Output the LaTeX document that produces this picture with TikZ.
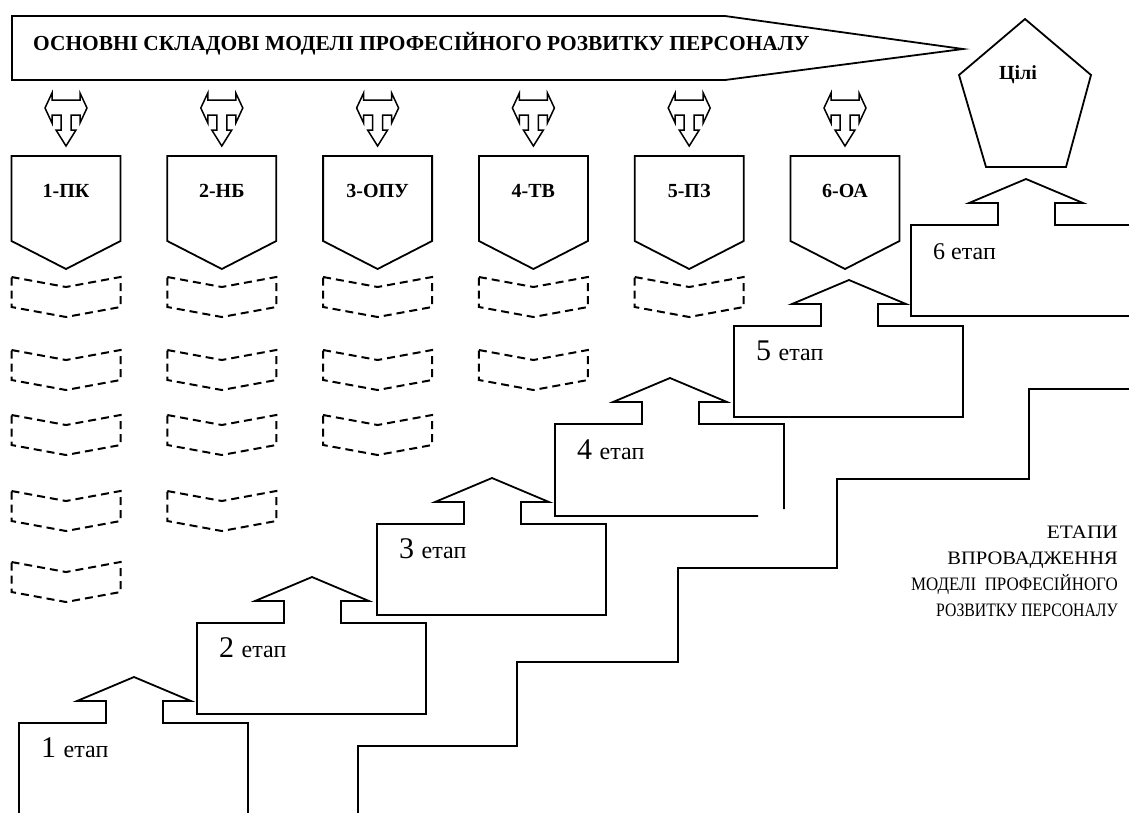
\documentclass[tikz,border=0pt]{standalone}
\usepackage{fontspec}
\setmainfont{Liberation Serif}
\newfontfamily\timesf{Liberation Serif}
\usetikzlibrary{calc}

\tikzset{
    outline/.style={draw=black, line width=1.8pt, line join=miter},
    dashbox/.style={draw=black, line width=2pt, dash pattern=on 8pt off 5pt},
    stair/.style={draw=black, line width=2.4pt},
    headlabel/.style={font=\timesf\bfseries\fontsize{20}{24}\selectfont, anchor=base},
}

\begin{document}
\begin{tikzpicture}[x=1pt, y=-1pt]

\useasboundingbox (0,0) rectangle (1129,812);
\clip (0,0) rectangle (1129,812);

% Banner
\draw[outline] (12,16) -- (725,16) -- (963,49) -- (725,80) -- (12,80) -- cycle;
\node[anchor=base west, inner sep=0pt, font=\timesf\bfseries\fontsize{21.4}{24}\selectfont] (banner) at (33,50)
    {ОСНОВНІ СКЛАДОВІ МОДЕЛІ ПРОФЕСІЙНОГО РОЗВИТКУ ПЕРСОНАЛУ};

% Goal pentagon
\draw[outline] (1025,19) -- (1091,75) -- (1066,167) -- (986,167) -- (959,75) -- cycle;
\node[headlabel] (goal) at (1018,79) {Цілі};

% Double arrows and components
\foreach \c/\lab in {66/1-ПК, 221.8/2-НБ, 377.6/3-ОПУ, 533.4/4-ТВ, 689.2/5-ПЗ, 845/6-ОА} {
    \begin{scope}[shift={(\c,93)}]
        \draw[outline, line width=1.5pt] (-14,0) -- (-14,7) -- (14,7) -- (14,0) -- (21,15)
            -- (14,30) -- (14,22) -- (5,22) -- (5,37) -- (10,37) -- (0,53) -- (-10,37)
            -- (-5,37) -- (-5,22) -- (-14,22) -- (-14,30) -- (-21,15) -- cycle;
    \end{scope}
    \draw[outline] ({\c-54.5},156) -- ({\c+54.5},156) -- ({\c+54.5},241) -- (\c,269)
        -- ({\c-54.5},241) -- cycle;
    \node[headlabel] (comp\c) at (\c,197) {\lab};
}

% Dashed chevrons
\foreach \c/\rowlist in {66/{277,350,415,491,562}, 221.8/{277,350,415,491},
    377.6/{277,350,415}, 533.4/{277,350}, 689.2/{277}} {
    \foreach \t in \rowlist {
        \draw[dashbox] ({\c-54.5},\t) -- (\c,{\t+10}) -- ({\c+54.5},\t) -- ({\c+54.5},{\t+30})
            -- (\c,{\t+40}) -- ({\c-54.5},{\t+30}) -- cycle;
    }
}

% Stages
\foreach \l/\t/\n/\ds in {19/723/1/30, 197/623/2/30, 377/524/3/30, 734/326/5/30, 911/225/6/24} {
    \begin{scope}[shift={(\l,\t)}]
        \draw[outline] (0,0) -- (87,0) -- (87,-22) -- (58,-22) -- (115,-46) -- (172,-22)
            -- (144,-22) -- (144,0) -- (229,0) -- (229,91) -- (0,91) -- cycle;
        \node[anchor=base west, inner sep=0pt, font=\timesf] (st\n) at (22,34)
            {\fontsize{\ds}{\ds}\selectfont\n\ \fontsize{24}{24}\selectfont етап};
    \end{scope}
}
\begin{scope}[shift={(555,424)}]
    \draw[outline] (229,85) -- (229,0) -- (144,0) -- (144,-22) -- (172,-22) -- (115,-46)
        -- (58,-22) -- (87,-22) -- (87,0) -- (0,0) -- (0,92) -- (203,92);
    \node[anchor=base west, inner sep=0pt, font=\timesf] (st4) at (22,35)
        {\fontsize{30}{30}\selectfont 4\ \fontsize{24}{24}\selectfont етап};
\end{scope}

% Staircase
\draw[stair] (358,814) -- (358,746) -- (517,746) -- (517,662) -- (678,662) -- (678,568)
    -- (837,568) -- (837,479) -- (1029,479) -- (1029,389) -- (1131,389);

\node[anchor=base east, align=right, inner sep=0pt, font=\timesf\fontsize{19}{25.7}\selectfont]
    (stages) at (1118,616) {\scalebox{1.12}[1]{ЕТАПИ}\\\scalebox{1.08}[1]{ВПРОВАДЖЕННЯ}\\
    \scalebox{0.89}[1]{МОДЕЛІ~~ПРОФЕСІЙНОГО}\\\scalebox{0.83}[1]{РОЗВИТКУ ПЕРСОНАЛУ}};

\end{tikzpicture}
\end{document}
